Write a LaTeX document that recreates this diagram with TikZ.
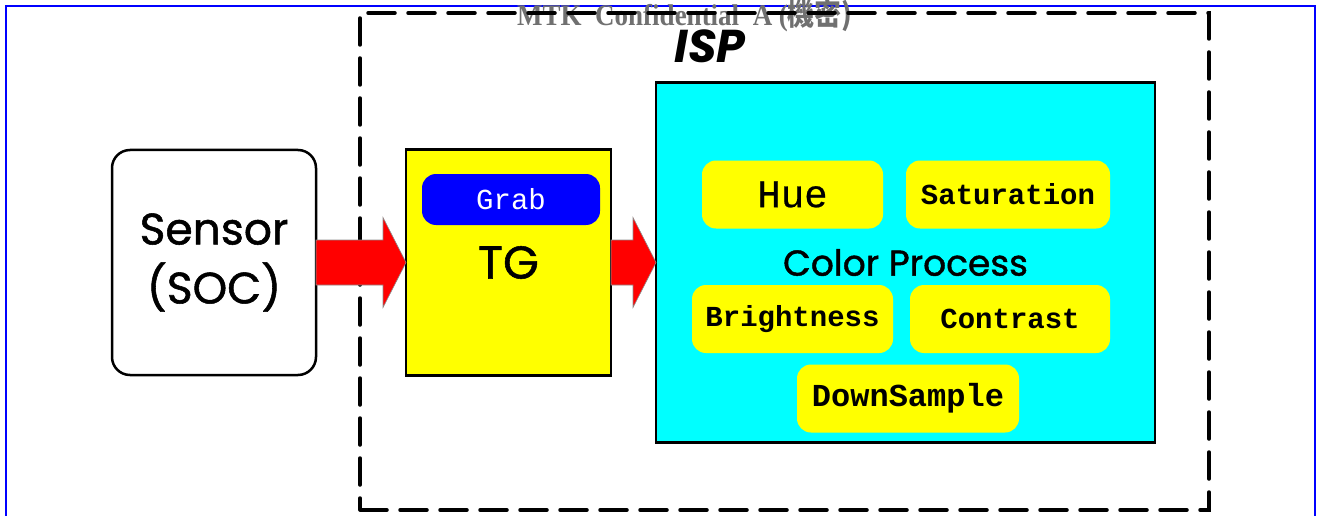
\documentclass[tikz,border=0pt]{standalone}
\usepackage{fontspec}
\usepackage{tikz}
\usetikzlibrary{
  arrows.meta,
  positioning,
  calc
}
\newfontfamily\handfont{Poppins}[FakeBold=1.2]
\newfontfamily\tagfont{Poppins}
\newfontfamily\monofont{Liberation Mono}
\newfontfamily\monomedfont{Liberation Mono}[FakeBold=0.6]
\newfontfamily\timesfont{Liberation Serif}
\newfontfamily\cjkfont{Noto Sans CJK TC}
\definecolor{ispCyan}{HTML}{00FFFF}
\definecolor{ispYellow}{HTML}{FFFF00}
\definecolor{ispBlue}{HTML}{0000FF}
\definecolor{ispRed}{HTML}{FF0000}
\definecolor{ispGrey}{HTML}{707070}
\tikzset{
  blk/.style={
    draw, line width=2.5pt, outer sep=0pt, inner sep=0pt, align=center
  },
  sensorbox/.style={blk, rounded corners=18pt, fill=white, minimum width=204pt,
    minimum height=225pt, font=\handfont\fontsize{44}{59}\selectfont},
  tgbox/.style={blk, fill=ispYellow, minimum width=205pt, minimum height=226pt,
    font=\handfont\fontsize{46}{46}\selectfont},
  procbox/.style={blk, fill=ispCyan, minimum width=499pt, minimum height=360pt,
    font=\handfont\fontsize{36}{36}\selectfont},
  pill/.style={rounded corners=14pt, fill=ispYellow, inner sep=0pt, minimum height=68pt,
    font=\monofont\bfseries\fontsize{29}{29}\selectfont},
  grabpill/.style={pill, fill=ispBlue, text=white, minimum width=178pt, minimum height=51pt,
    font=\monofont\fontsize{29}{29}\selectfont},
  zone/.style={draw, line width=3.5pt, dash pattern=on 27pt off 13pt, line cap=round,
    minimum width=849pt, minimum height=497pt, outer sep=0pt},
  bigarrow/.style={fill=ispRed, draw=black!45, line width=0.6pt},
  pageframe/.style={ispBlue, line width=2pt},
  zonetag/.style={font=\tagfont\bfseries\itshape\fontsize{46}{46}\selectfont},
  conftag/.style={text=ispGrey, font=\timesfont\bfseries\fontsize{30}{30}\selectfont,
    xscale=0.9, inner sep=0pt}
}

\begin{document}
\begin{tikzpicture}[x=1pt, y=-1pt]
  \useasboundingbox[fill=white] (0,0) rectangle (1317,516);
  \draw[pageframe] (6,516) -- (6,6) -- (1315,6) -- (1315,516);

  \node[conftag] (conf) at (685,16) {MTK\ \ Confidential\ \ A (\cjkfont\bfseries 機密)};
  \node[zone] (isp) at (784.5,261.5) {};
  \node[zonetag] (isptag) at (710,46) {ISP};

  \node[sensorbox] (sensor) at (214,262.5) {Sensor\\(SOC)};
  \node[tgbox, right=90pt of sensor] (tg) {TG};
  \node[grabpill] (grab) at (511,199.5) {Grab};
  \node[procbox, right=45pt of tg] (cp) {Color Process};

  \node[pill, minimum width=181pt, font=\monomedfont\fontsize{39}{39}\selectfont] (hue) at (792.5,194.5) {Hue};
  \node[pill, minimum width=204pt] (sat) at (1008,194.5) {Saturation};
  \node[pill, minimum width=201pt] (bright) at (792.5,319) {Brightness};
  \node[pill, minimum width=200pt] (contrast) at (1010,319) {Contrast};
  \node[pill, minimum width=222pt, font=\monofont\bfseries\fontsize{32}{32}\selectfont] (down) at (908,398.5) {DownSample};

  \foreach \s/\e in {sensor/tg, tg/cp}{
    \draw[bigarrow] ($(\s.east)+(0,-22.5)$) -- ($(\e.west)+(-23,-22.5)$)
      -- ($(\e.west)+(-23,-45)$) -- (\e.west) -- ($(\e.west)+(-23,45)$)
      -- ($(\e.west)+(-23,22.5)$) -- ($(\s.east)+(0,22.5)$) -- cycle;
  }
\end{tikzpicture}
\end{document}
